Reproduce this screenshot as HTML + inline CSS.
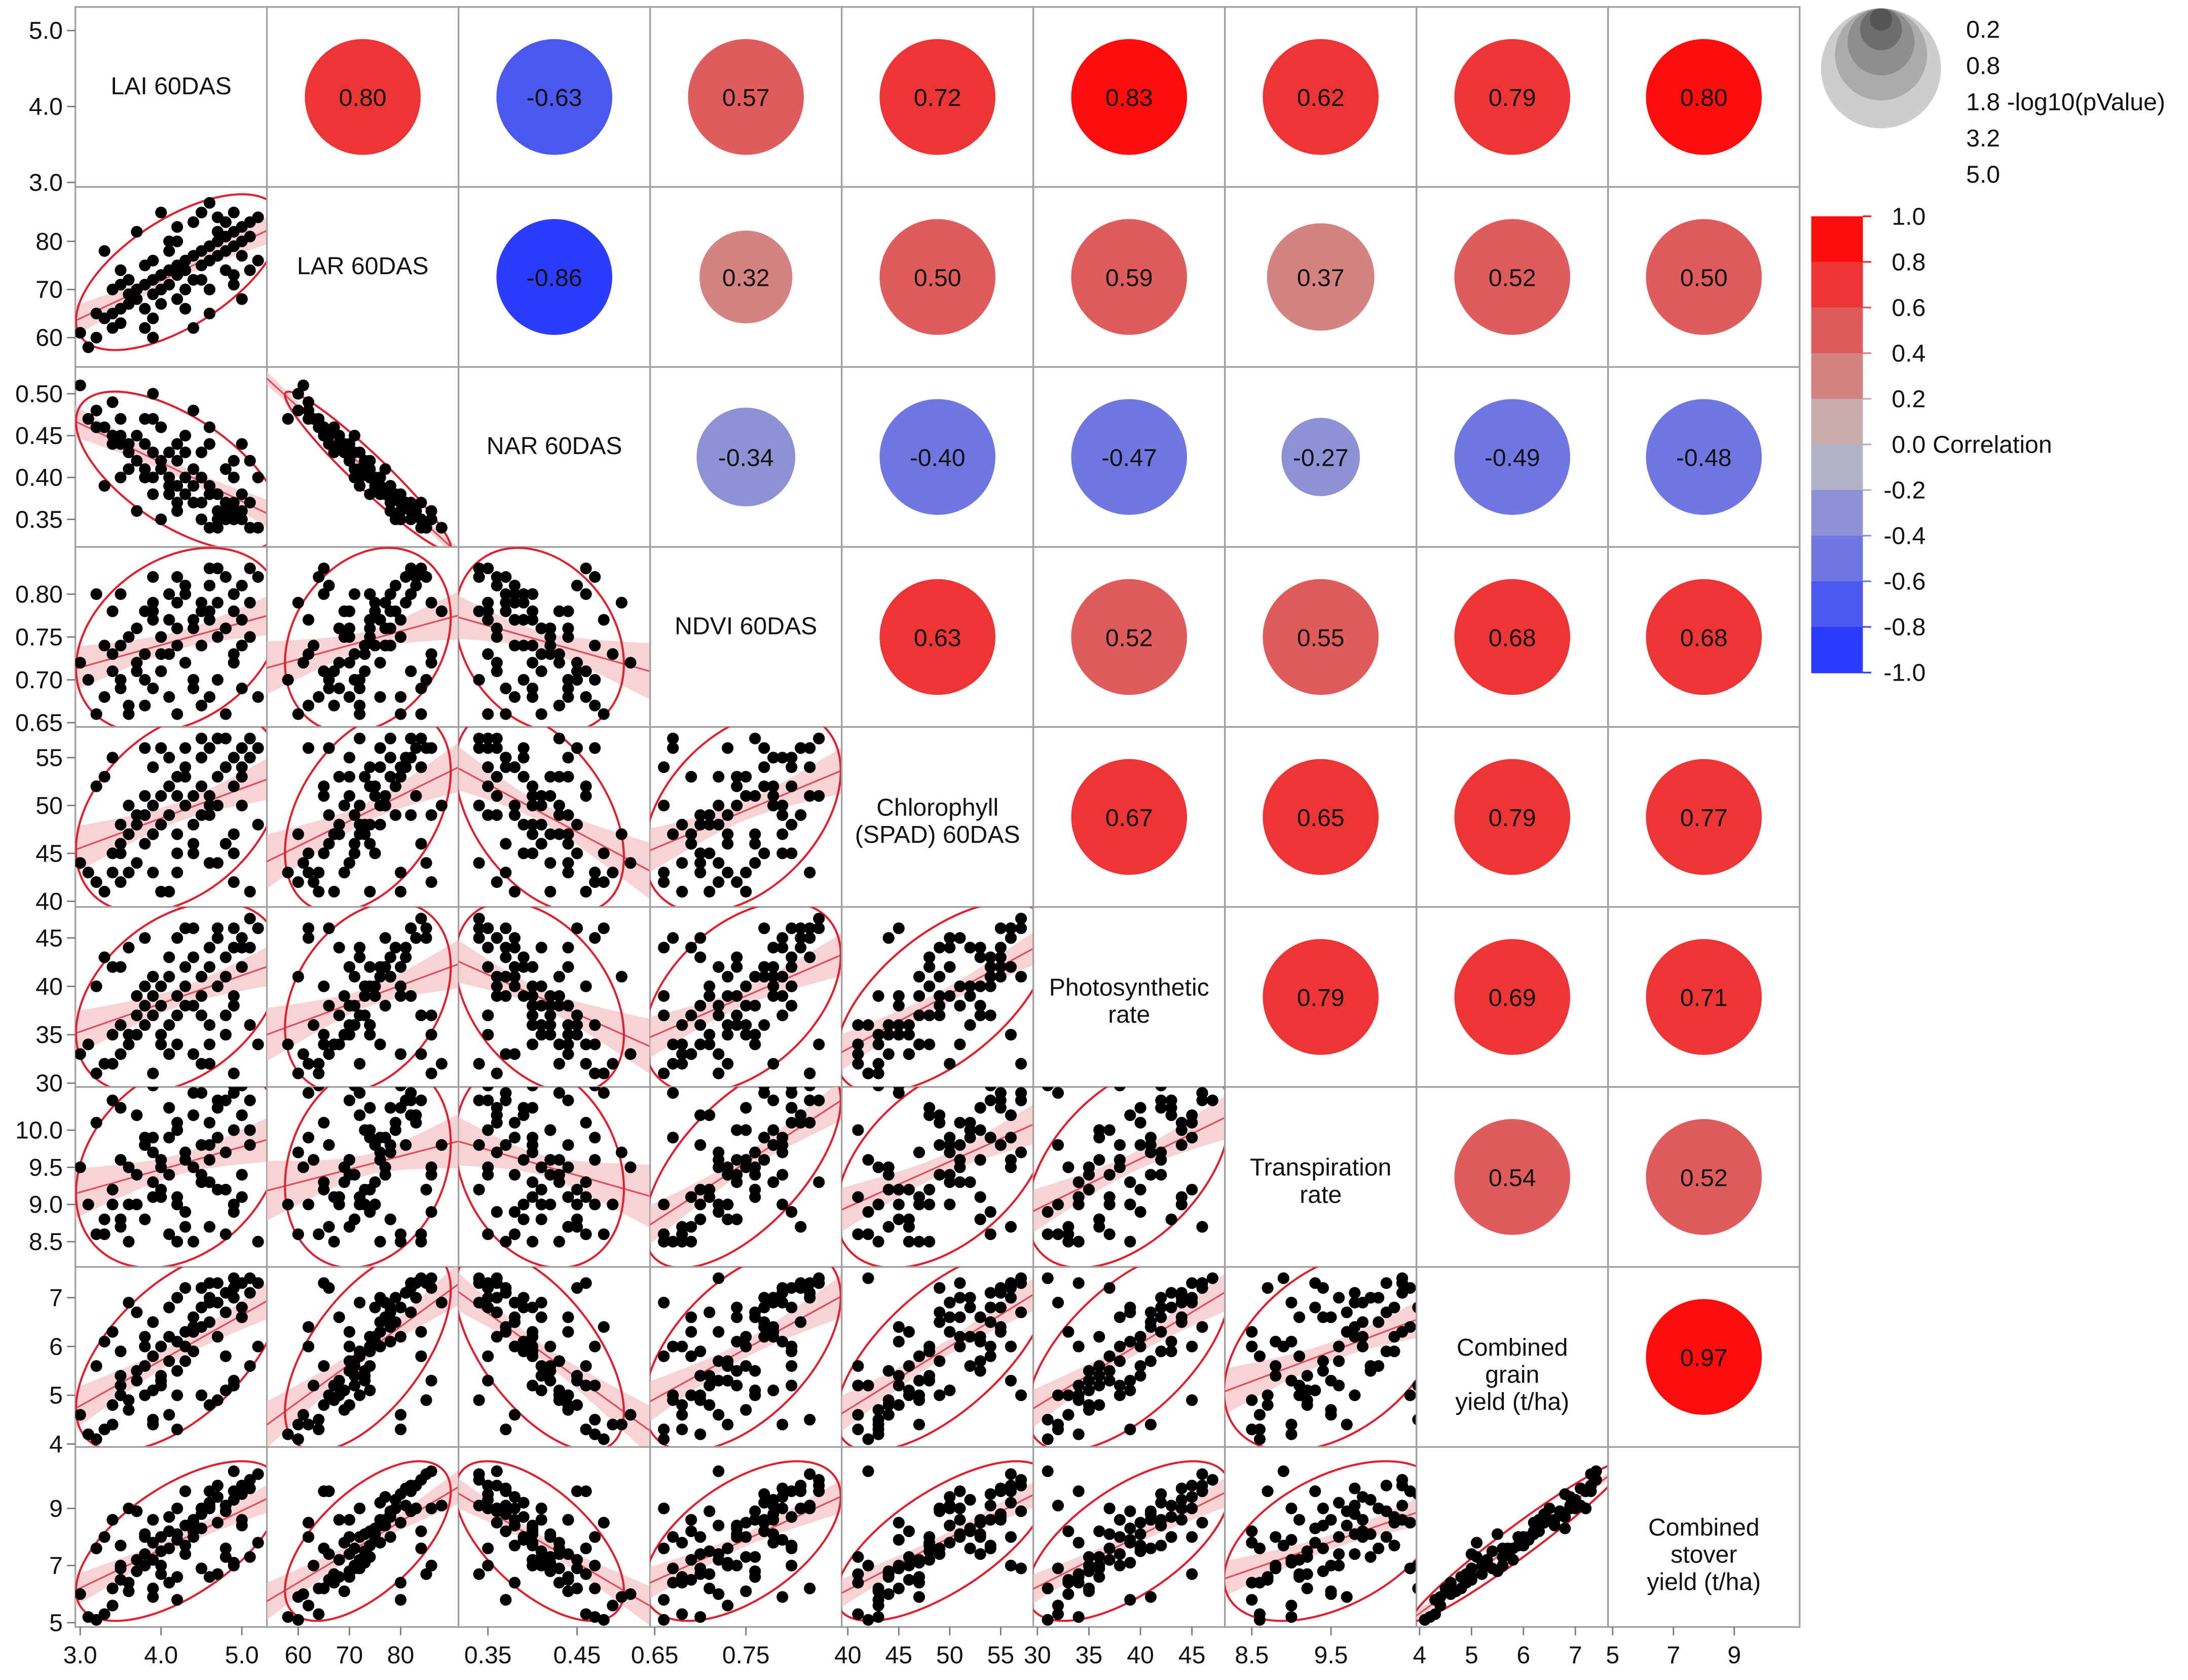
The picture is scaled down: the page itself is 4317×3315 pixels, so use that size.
<!DOCTYPE html>
<html><head><meta charset="utf-8"><style>
html,body{margin:0;padding:0;background:#fff;}
svg{display:block;font-family:"Liberation Sans","DejaVu Sans",sans-serif;}
</style></head><body>
<svg id="chart" xmlns="http://www.w3.org/2000/svg" width="4317" height="3315" viewBox="0 0 1568 1204" preserveAspectRatio="none"></svg>
<script>
const varNames = ["LAI 60DAS","LAR 60DAS","NAR 60DAS","NDVI 60DAS","Chlorophyll|(SPAD) 60DAS","Photosynthetic|rate","Transpiration|rate","Combined|grain|yield (t/ha)","Combined|stover|yield (t/ha)"];
const lai = [3.0,3.1,3.3,3.4,3.5,3.5,3.6,3.7,3.7,3.8,3.8,3.9,3.9,4.0,4.0,4.1,4.1,4.2,4.2,4.3,4.3,4.4,4.4,4.5,4.5,4.6,4.6,4.7,4.7,4.8,4.8,4.9,4.9,5.0,5.0,5.1,5.1,5.2,3.2,3.6,4.0,4.4,4.9,4.2,3.9,4.6,4.5,3.4,4.8,4.1,4.3,3.8,5.0,4.7,3.5,4.2,3.2,3.4,3.6,3.9,4.1,4.3,4.5,4.7,4.9,5.2,5.1,3.3,3.7,3.9,4.6,4.8,4.4,4.0,3.5,5.0,4.2,4.6,3.8,4.9];
const lar = [61,58,64,65,66,63,67,68,70,66,71,69,72,70,73,74,71,75,73,76,74,77,72,78,75,79,76,80,77,81,78,82,79,83,80,84,81,85,60,69,67,84,73,83,76,70,86,62,74,78,70,75,77,82,71,68,65,70,72,64,80,66,72,85,86,76,74,78,82,60,65,84,62,86,74,68,80,88,62,71];
const nar = [.51,.47,.46,.45,.44,.47,.43,.45,.42,.44,.41,.43,.40,.42,.41,.40,.43,.39,.42,.40,.38,.41,.39,.37,.40,.38,.39,.36,.38,.37,.36,.37,.35,.36,.35,.34,.37,.34,.48,.44,.46,.37,.42,.36,.38,.44,.35,.49,.41,.39,.43,.40,.38,.35,.45,.44,.46,.44,.41,.47,.38,.45,.43,.34,.36,.40,.42,.39,.36,.50,.46,.35,.48,.35,.40,.44,.37,.34,.47,.40];
const ndvi = [.72,.70,.68,.71,.69,.74,.67,.72,.76,.70,.73,.78,.69,.75,.71,.77,.73,.79,.74,.72,.80,.76,.70,.78,.74,.81,.77,.75,.79,.82,.76,.80,.78,.81,.77,.83,.79,.82,.66,.75,.71,.69,.73,.82,.77,.68,.79,.73,.76,.80,.72,.78,.74,.83,.70,.76,.80,.78,.66,.82,.68,.81,.67,.70,.72,.68,.75,.74,.71,.79,.83,.66,.77,.73,.80,.69,.66,.78,.67,.80];
const chl = [44,43,41,45,46,42,47,48,44,49,46,50,47,51,48,52,49,45,53,50,54,51,48,55,52,49,56,53,50,54,57,55,52,56,54,57,55,56,42,43,41,46,47,51,54,44,49,43,46,55,53,51,50,57,45,47,52,55,50,43,41,56,57,44,42,48,41,53,49,47,51,54,45,56,48,53,43,50,56,45];
const photo = [33,34,32,35,33,36,34,37,35,38,36,39,37,38,40,36,41,39,37,42,40,38,43,41,39,44,42,40,45,43,41,46,44,45,42,47,44,46,31,35,34,33,39,45,41,36,37,32,35,43,38,40,42,46,36,34,40,42,44,31,33,46,32,45,31,34,36,43,39,41,34,37,46,35,42,44,39,32,45,38];
const trans = [9.5,9.0,8.6,9.2,8.7,9.6,8.5,9.0,9.4,9.8,8.8,9.3,9.1,9.6,9.2,9.9,9.4,9.0,10.0,9.7,8.9,9.5,10.2,9.8,9.3,10.1,9.6,10.3,9.9,10.4,9.7,10.5,10.0,10.2,10.6,10.4,9.8,10.7,8.6,9.5,9.1,8.5,9.0,10.1,9.9,8.7,9.4,9.0,9.2,10.3,9.6,9.8,9.4,10.4,8.8,9.1,10.1,10.4,9.0,10.6,8.6,8.7,10.5,9.2,8.9,8.5,10.0,8.8,10.2,9.7,9.3,8.6,10.5,9.5,10.3,9.1,8.5,9.8,9.9,10.6];
const grain = [4.6,4.2,4.3,4.8,5.0,5.2,4.9,5.3,5.5,5.0,5.6,5.1,5.8,6.0,5.4,6.2,5.7,6.1,5.5,6.3,6.0,6.6,5.9,6.4,6.8,6.5,7.0,6.2,6.9,7.1,6.7,7.2,7.0,7.3,6.8,7.4,7.1,7.3,4.1,4.7,5.2,6.3,5.3,7.0,6.5,4.8,7.2,4.4,5.1,6.8,5.7,6.2,6.6,7.3,5.4,5.0,5.6,6.3,6.9,4.5,4.6,7.2,5.0,4.9,7.4,6.0,5.6,6.1,6.7,4.4,7.3,5.8,6.4,5.3,5.9,6.6,4.3,6.9,6.0,5.2];
const stover = [6.0,5.2,5.3,6.2,6.5,7.0,6.4,7.2,6.8,7.4,7.0,7.8,7.2,8.0,7.5,8.2,7.6,7.9,8.1,8.4,7.7,8.6,8.0,8.8,8.3,9.0,9.2,8.5,9.4,9.1,8.9,9.6,9.3,9.8,9.5,10.0,9.7,10.2,5.1,6.1,6.7,8.2,7.1,9.0,8.6,6.6,9.0,5.6,7.3,8.7,7.4,8.1,8.4,9.8,6.9,6.6,7.6,8.6,9.0,6.2,6.4,9.6,6.9,6.7,10.3,7.8,7.3,8.0,8.9,5.9,9.6,7.6,8.5,7.0,7.7,8.6,5.8,9.1,8.0,7.0];
const series = [lai,lar,nar,ndvi,chl,photo,trans,grain,stover];
const domains = [[2.94,5.31],[53.9,91.3],[0.317,0.532],[0.645,0.855],[39.4,58.2],[29.6,48.2],[8.16,10.58],[3.94,7.63],[4.85,11.15]];
const yTicks = [[3.0,4.0,5.0],[60,70,80],[0.35,0.40,0.45,0.50],[0.65,0.70,0.75,0.80],[40,45,50,55],[30,35,40,45],[8.5,9.0,9.5,10.0],[4,5,6,7],[5,7,9]];
const yTickLabels = [["3.0","4.0","5.0"],["60","70","80"],["0.35","0.40","0.45","0.50"],["0.65","0.70","0.75","0.80"],["40","45","50","55"],["30","35","40","45"],["8.5","9.0","9.5","10.0"],["4","5","6","7"],["5","7","9"]];
const xTicks = [[3.0,4.0,5.0],[60,70,80],[0.35,0.45],[0.65,0.75],[40,45,50,55],[30,35,40,45],[8.5,9.5],[4,5,6,7],[5,7,9]];
const xTickLabels = [["3.0","4.0","5.0"],["60","70","80"],["0.35","0.45"],["0.65","0.75"],["40","45","50","55"],["30","35","40","45"],["8.5","9.5"],["4","5","6","7"],["5","7","9"]];
const corrRows = [
 [0.798,-0.63,0.57,0.72,0.83,0.62,0.79,0.803],
 [-0.86,0.32,0.50,0.59,0.37,0.52,0.50],
 [-0.34,-0.40,-0.47,-0.27,-0.49,-0.48],
 [0.63,0.52,0.55,0.68,0.68],
 [0.67,0.65,0.79,0.77],
 [0.79,0.69,0.71],
 [0.54,0.52],
 [0.97]
];
const pLegendValues = ["0.2","0.8","1.8","3.2","5.0"];
const cbarTicks = [1.0,0.8,0.6,0.4,0.2,0.0,-0.2,-0.4,-0.6,-0.8,-1.0];

const NS="http://www.w3.org/2000/svg";
const svg=document.getElementById('chart');
const X0=54, Y0=5, CW=137.3, CH=129.0, N=9;
function el(tag,attrs,parent){const e=document.createElementNS(NS,tag);for(const k in attrs)e.setAttribute(k,attrs[k]);(parent||svg).appendChild(e);return e;}
function sx(j,v){const d=domains[j];return X0+j*CW+(v-d[0])/(d[1]-d[0])*CW;}
function sy(i,v){const d=domains[i];return Y0+(i+1)*CH-(v-d[0])/(d[1]-d[0])*CH;}
function corrColor(r){
  const pos=["#c8acad","#d48282","#e05c5c","#ee3535","#ff0d0d"];
  const neg=["#b0b2c8","#8c92d4","#6f78e0","#4a58ee","#2c3cff"];
  const k=Math.min(4,Math.floor(Math.abs(r)/0.2));
  return r>=0?pos[k]:neg[k];
}
const defs=el('defs',{});

for(let i=0;i<N;i++){for(let j=0;j<N;j++){
  const g=el('g',{});
  
  
  const cx=X0+j*CW, cy=Y0+i*CH;
  const rect=el('rect',{x:cx,y:cy,width:CW,height:CH,fill:'#fff',stroke:'#a0a0a0','stroke-width':1.2},g);
  
  
  if(i===j){
    const lines=varNames[i].split('|');
    lines.forEach((ln,k)=>{
      const t=el('text',{x:cx+CW/2,y:cy+CH/2-(lines.length===1?8:7)+k*19.5+6,'text-anchor':'middle','font-size':17.5,fill:'#111'},g);
      t.textContent=ln;
      
      
    });
  } else if(j>i){
    const r=corrRows[i][j-i-1];
    const rad=Math.min(41.5,Math.abs(r)*104);
    const c=el('circle',{cx:cx+CW/2,cy:cy+CH/2,r:rad,fill:corrColor(r)},g);
    
    
    const t=el('text',{x:cx+CW/2,y:cy+CH/2+6.5,'text-anchor':'middle','font-size':17.5,fill:'#111'},g);
    t.textContent=r.toFixed(2);
    
    
  } else {
    const cp=el('clipPath',{id:'cp'+i+'_'+j},defs);
    el('rect',{x:cx,y:cy,width:CW,height:CH},cp);
    const inner=el('g',{'clip-path':'url(#cp'+i+'_'+j+')'},g);
    const xs=series[j], ys=series[i];
    const n=Math.min(xs.length,ys.length);
    const px=[],py=[];
    for(let k=0;k<n;k++){px.push(sx(j,xs[k]));py.push(sy(i,ys[k]));}
    const mx=px.reduce((a,b)=>a+b,0)/n, my=py.reduce((a,b)=>a+b,0)/n;
    let sxx=0,syy=0,sxy=0;
    for(let k=0;k<n;k++){sxx+=(px[k]-mx)**2;syy+=(py[k]-my)**2;sxy+=(px[k]-mx)*(py[k]-my);}
    const b=sxy/sxx, a=my-b*mx;
    let sse=0;for(let k=0;k<n;k++)sse+=(py[k]-a-b*px[k])**2;
    const s=Math.sqrt(sse/(n-2));
    const up=[],lo=[];
    for(let t=0;t<=20;t++){const xx=cx-5+t*(CW+10)/20;const se=2.01*s*Math.sqrt(1/n+(xx-mx)**2/sxx);const yy=a+b*xx;up.push(xx+','+(yy-se));lo.unshift(xx+','+(yy+se));}
    const band=el('polygon',{points:up.concat(lo).join(' '),fill:'#f4c4c8','fill-opacity':0.75},inner);
    
    
    const ln=el('line',{x1:cx-5,y1:a+b*(cx-5),x2:cx+CW+5,y2:a+b*(cx+CW+5),stroke:'#e0505a','stroke-width':1.2},inner);
    
    
    const cxx=sxx/(n-1), cyy=syy/(n-1), cxy=sxy/(n-1);
    const tr=cxx+cyy, det=cxx*cyy-cxy*cxy;
    const l1=tr/2+Math.sqrt(tr*tr/4-det), l2=tr/2-Math.sqrt(tr*tr/4-det);
    const ang=Math.atan2(l1-cxx,cxy)*180/Math.PI;
    const k2=4.8;
    const ell=el('ellipse',{cx:mx,cy:my,rx:Math.sqrt(k2*l1),ry:Math.sqrt(k2*Math.max(l2,0.1)),transform:'rotate('+ang+' '+mx+' '+my+')',fill:'none',stroke:'#e0202e','stroke-width':1.5},inner);
    
    
    for(let k=0;k<n;k++){
      const p=el('circle',{cx:px[k],cy:py[k],r:4.2,fill:'#000'},inner);
      
      
    }
  }
}}

for(let i=0;i<N;i++){
  const g=el('g',{});
  
  
  yTicks[i].forEach((v,k)=>{
    const y=sy(i,v);
    el('line',{x1:X0-6,y1:y,x2:X0,y2:y,stroke:'#777','stroke-width':1},g);
    const t=el('text',{x:X0-9,y:y+6,'text-anchor':'end','font-size':17.5,fill:'#111'},g);
    t.textContent=yTickLabels[i][k];
    
    
  });
}
const BY=Y0+N*CH;
for(let j=0;j<N;j++){
  const g=el('g',{});
  
  
  xTicks[j].forEach((v,k)=>{
    const x=sx(j,v);
    el('line',{x1:x,y1:BY,x2:x,y2:BY+6,stroke:'#777','stroke-width':1},g);
    const t=el('text',{x:x,y:BY+26,'text-anchor':'middle','font-size':17.5,fill:'#111'},g);
    t.textContent=xTickLabels[j][k];
    
    
  });
}

const lg=el('g',{});


const lr=[43,33,24,15,8], lcol=['#cdcdcd','#ababab','#8e8e8e','#6e6e6e','#555'];
lr.forEach((r,k)=>{el('circle',{cx:1348,cy:6+r,r:r,fill:lcol[k]},lg);});
pLegendValues.forEach((v,k)=>{
  const t=el('text',{x:1409,y:27+k*26,'font-size':17.5,fill:'#111'},lg);
  t.textContent=v+(k===2?' -log10(pValue)':'');
  
  
});
const cg=el('g',{});


const CB0=155, CB1=482, CBX=1298, CBW=37;
function cby(v){return CB0+(1-v)/2*(CB1-CB0);}
for(let k=0;k<10;k++){
  const top=1-k*0.2, mid=top-0.1;
  el('rect',{x:CBX,y:cby(top),width:CBW,height:cby(top-0.2)-cby(top)+0.5,fill:corrColor(mid)},cg);
}
cbarTicks.forEach(v=>{
  const y=cby(v);
  el('line',{x1:CBX+CBW,y1:y,x2:CBX+CBW+6,y2:y,stroke:corrColor(v===0?0.01:v*0.999),'stroke-width':1.2},cg);
  const t=el('text',{x:1380,y:y+6,'text-anchor':'end','font-size':17.5,fill:'#111'},cg);
  t.textContent=(v<0?'-':'')+Math.abs(v).toFixed(1);
  
  
});
const ct=el('text',{x:1385,y:cby(0)+6,'font-size':17.5,fill:'#111'},cg);
ct.textContent='Correlation';


</script>
</body></html>
